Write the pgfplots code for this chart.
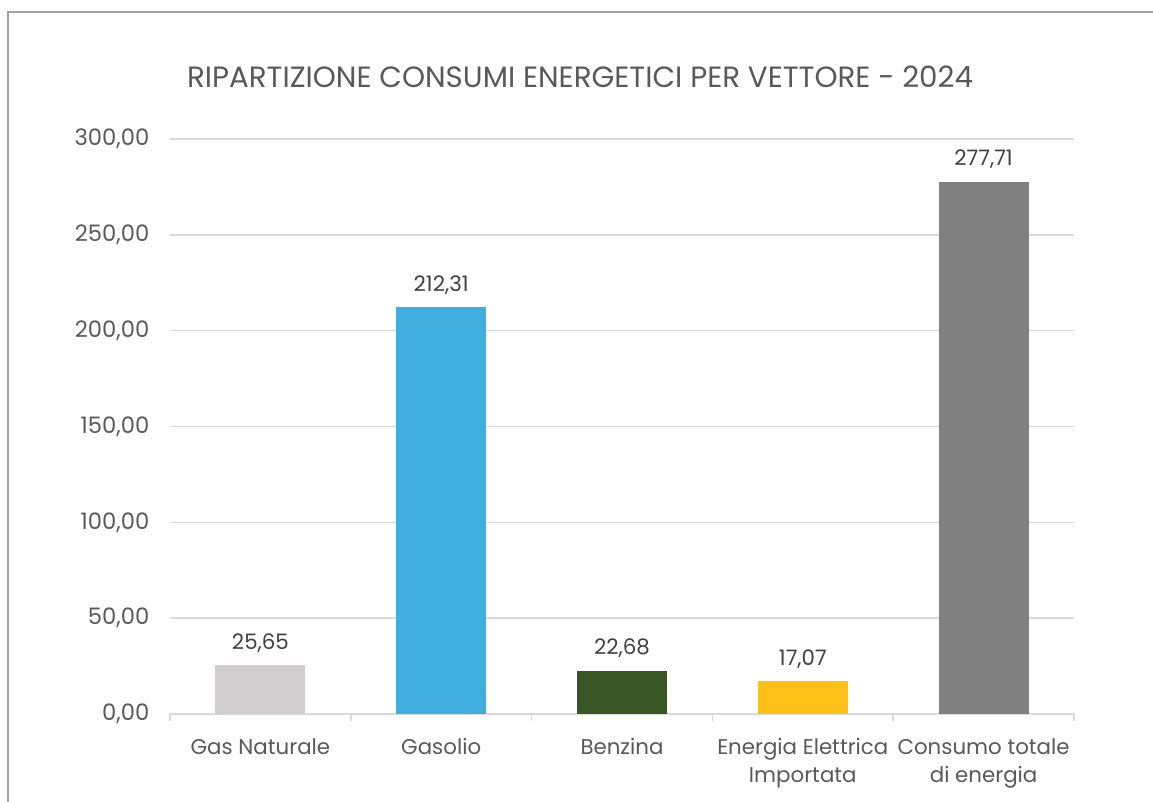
\documentclass[border=0pt]{standalone}
\usepackage{pgfplots}
\pgfplotsset{compat=1.18}
\usepackage{fontspec}
\setmainfont{Poppins}
\definecolor{txt}{HTML}{595959}
\definecolor{lbl}{HTML}{404040}
\definecolor{gridc}{HTML}{D9D9D9}
\definecolor{framec}{HTML}{A0A0A0}
\definecolor{cgas}{HTML}{D0CECE}
\definecolor{cgasolio}{HTML}{41AEE0}
\definecolor{cbenz}{HTML}{375623}
\definecolor{cel}{HTML}{FCC016}
\definecolor{ctot}{HTML}{808080}
\begin{document}
\begin{tikzpicture}
\path[use as bounding box] (0,0) rectangle (864.75pt,600.75pt);
\draw[color=framec, line width=1.8pt] (6pt,-5pt) -- (6pt,591.75pt) -- (880pt,591.75pt);
\node[text=txt, font=\fontsize{22}{26}\selectfont] at (435pt,543pt) {RIPARTIZIONE CONSUMI ENERGETICI PER VETTORE - 2024};
\begin{axis}[
  at={(127.5pt,65.25pt)}, anchor=south west,
  scale only axis, width=678pt, height=431.25pt,
  xmin=-0.5, xmax=4.5, ymin=0, ymax=300,
  ytick={0,50,...,300},
  xtick={0,1,2,3,4},
  xticklabels={Gas Naturale, Gasolio, Benzina, Energia Elettrica\\Importata, Consumo totale\\di energia},
  extra x ticks={-0.5,0.5,1.5,2.5,3.5,4.5},
  extra x tick labels={},
  extra x tick style={major tick length=5.25pt, tick style={draw=gridc, line width=1.2pt}, tick align=outside, grid=none},
  major tick length=0pt,
  axis x line*=bottom, axis y line*=left,
  y axis line style={draw=none},
  x axis line style={draw=gridc, line width=1.2pt},
  ymajorgrids, grid style={draw=gridc, line width=1.2pt},
  /pgf/number format/assume math mode=true,
  /pgf/number format/.cd, fixed, fixed zerofill, precision=2, use comma, 1000 sep={},
  /pgfplots/.cd,
  yticklabel style={text=txt, font=\fontsize{17}{20}\selectfont, xshift=-12pt},
  xticklabel style={text=txt, font=\fontsize{16}{21}\selectfont, align=center, yshift=-15pt},
  ybar, bar width=67.5pt, bar shift=0pt,
  nodes near coords,
  every node near coord/.append style={text=lbl, font=\fontsize{16}{19}\selectfont, yshift=6pt},
]
\addplot[fill=cgas, draw=none] coordinates {(0,25.65)};
\addplot[fill=cgasolio, draw=none] coordinates {(1,212.31)};
\addplot[fill=cbenz, draw=none] coordinates {(2,22.68)};
\addplot[fill=cel, draw=none] coordinates {(3,17.07)};
\addplot[fill=ctot, draw=none] coordinates {(4,277.71)};
\end{axis}
\end{tikzpicture}
\end{document}
